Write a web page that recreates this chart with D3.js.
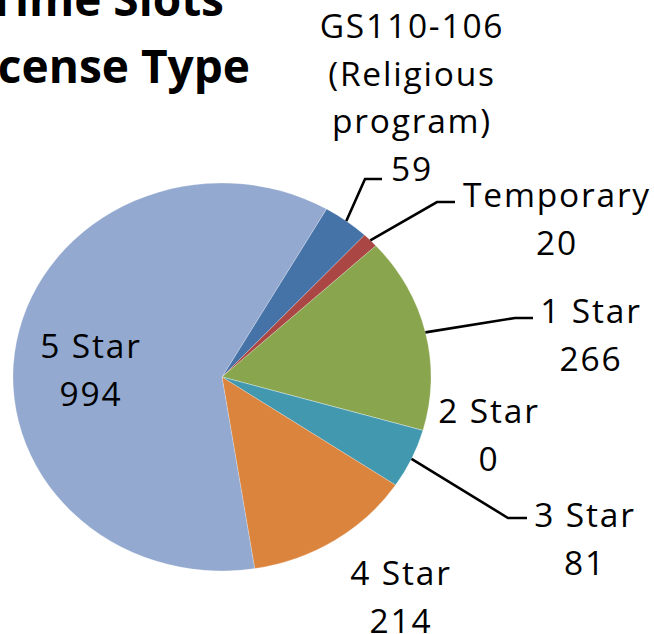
<!DOCTYPE html>
<html><head><meta charset="utf-8">
<script src="https://cdn.jsdelivr.net/npm/d3@7"></script>
<style>html,body{margin:0;padding:0;background:#fff;overflow:hidden}</style>
</head><body>
<svg id="chart" width="654" height="634"></svg>
<script>
// ---- data ----
const categories = ["GS110-106 (Religious program)", "Temporary", "1 Star", "2 Star", "3 Star", "4 Star", "5 Star"];
const labelLines = [["GS110-106", "(Religious", "program)"], ["Temporary"], ["1 Star"], ["2 Star"], ["3 Star"], ["4 Star"], ["5 Star"]];
const values = [59, 20, 266, 0, 81, 214, 994];
const colors = ["#4572A7", "#AA4643", "#89A54E", "#71588F", "#4198AF", "#DB843D", "#93A9CF"];
const titleLines = ["Prime Time Slots", "by License Type"];

// ---- layout (positions only) ----
const cx = 222, cy = 377, rx = 209, ry = 194;
const startDeg = 30;
const labelLayout = [
  {x: 412, y: 38,  leader: [[365, 179], [382, 179]]},
  {x: 557, y: 207, leader: [[437, 202], [455, 202]]},
  {x: 591, y: 323, leader: [[515, 318], [533, 318]]},
  {x: 489, y: 423, leader: null},
  {x: 585, y: 527, leader: [[508, 518], [527, 518]]},
  {x: 401, y: 585, leader: null},
  {x: 91,  y: 358, leader: null}
];
const lineH = 47.5;

const svg = d3.select("#chart");
const font = "'Open Sans', 'Liberation Sans', sans-serif";

const pie = d3.pie().sort(null).value(d => d)
  .startAngle(startDeg * Math.PI / 180)
  .endAngle(startDeg * Math.PI / 180 + 2 * Math.PI);
const arcs = pie(values);
const arc = d3.arc().innerRadius(0).outerRadius(rx);

const g = svg.append("g").attr("transform", `translate(${cx},${cy}) scale(1,${ry / rx})`);
g.selectAll("path").data(arcs).join("path")
  .attr("d", arc)
  .attr("fill", (d, i) => colors[i])
  .attr("stroke", "#ffffff").attr("stroke-width", 0.4)
  .attr("stroke-opacity", 0.6);

// leaders
arcs.forEach((a, i) => {
  const L = labelLayout[i];
  if (!L.leader) return;
  const mid = (a.startAngle + a.endAngle) / 2;
  const p0 = [cx + rx * Math.sin(mid), cy - ry * Math.cos(mid)];
  svg.append("polyline")
    .attr("points", [p0, ...L.leader].map(p => p.join(",")).join(" "))
    .attr("fill", "none").attr("stroke", "#000").attr("stroke-width", 2.6);
});

// labels
arcs.forEach((a, i) => {
  const L = labelLayout[i];
  const lines = labelLines[i].concat([String(values[i])]);
  const t = svg.append("text")
    .attr("text-anchor", "middle")
    .attr("font-family", font).attr("font-size", 33.5)
    .attr("letter-spacing", 1.8)
    .attr("fill", "#000");
  lines.forEach((s, k) => {
    t.append("tspan").attr("x", L.x).attr("y", L.y + k * lineH).text(s);
  });
});

// title (cut off at top-left in the reference)
const title = svg.append("text")
  .attr("font-family", font).attr("font-weight", "bold")
  .attr("font-size", 46).attr("text-anchor", "end").attr("fill", "#000");
title.append("tspan").attr("x", 224).attr("y", 16).text(titleLines[0]);
title.append("tspan").attr("x", 250).attr("y", 83).text(titleLines[1]);
</script>
</body></html>
